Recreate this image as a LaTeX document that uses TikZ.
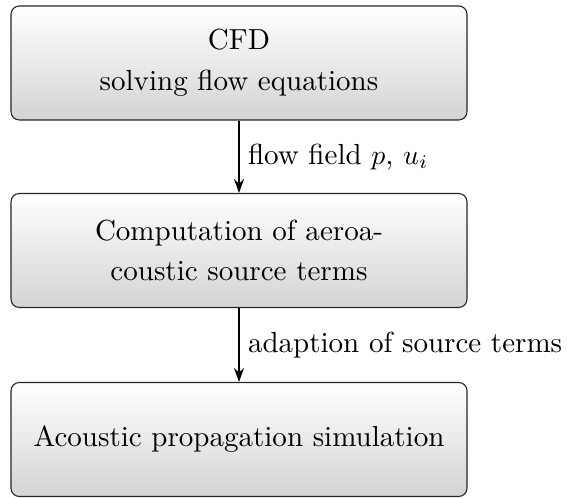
\documentclass[tikz,border=0pt]{standalone}
\usetikzlibrary{arrows.meta}
\begin{document}
\begin{tikzpicture}[x=0.36pt,y=-0.36pt,
  every node/.style={font=\fontsize{10.45}{14.6}\selectfont},
  blockbox/.style={draw=black!85, rounded corners=3pt, top color=white, bottom color=black!17,
    minimum width=456*0.36pt, minimum height=114*0.36pt, align=center, text width=155pt, line width=0.4pt},
  flowarrow/.style={-{Stealth[length=5pt,width=3.6pt]}, line width=0.5pt},
  lbl/.style={anchor=west, inner sep=0pt}]
\useasboundingbox (0,0) rectangle (567,498);
\node[blockbox] (cfd) at (239,63) {CFD\\solving flow equations};
\node[blockbox] (src) at (239,250.5) {Computation of aeroa-\\coustic source terms};
\node[blockbox] (aco) at (239,439.5) {Acoustic propagation simulation};
\draw[flowarrow] (cfd.south) -- (src.north) node[midway, lbl, xshift=3pt] (l1) {flow field $p$, $u_i$};
\draw[flowarrow] (src.south) -- (aco.north) node[midway, lbl, xshift=3pt] (l2) {adaption of source terms};
\end{tikzpicture}
\end{document}
